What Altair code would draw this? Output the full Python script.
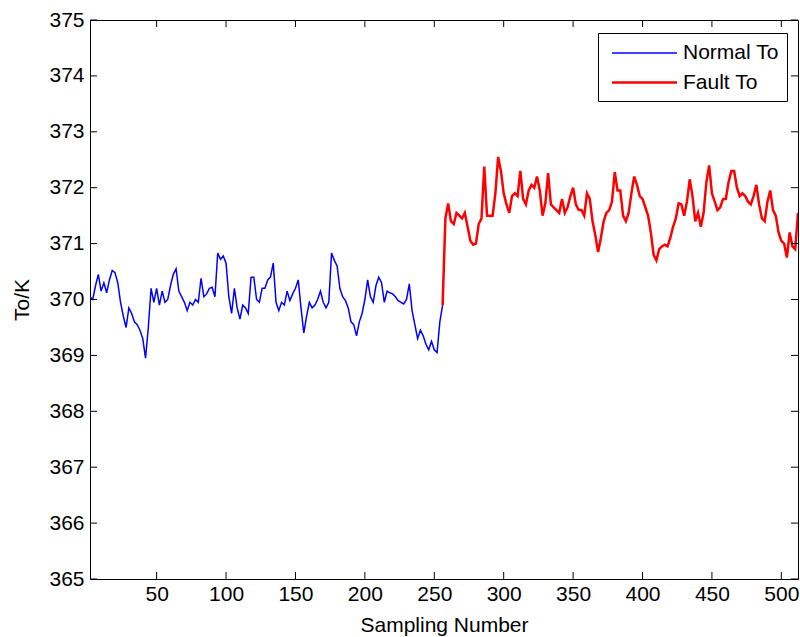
import altair as alt
import pandas as pd

# ---------------- data ----------------
normal_samples = list(range(2, 257, 2))
normal_to = [
    370.05, 370.0, 370.25, 370.45, 370.15, 370.3, 370.12, 370.35, 370.52, 370.48,
    370.3, 369.95, 369.7, 369.5, 369.85, 369.75, 369.6, 369.55, 369.45, 369.3,
    368.95, 369.5, 370.2, 369.95, 370.2, 369.9, 370.15, 369.95, 370.0, 370.25,
    370.45, 370.55, 370.15, 370.05, 369.95, 369.8, 369.95, 369.9, 370.0, 369.95,
    370.38, 370.05, 370.1, 370.2, 370.22, 370.05, 370.83, 370.72, 370.78, 370.65,
    370.05, 369.75, 370.2, 369.85, 369.65, 369.9, 369.85, 369.75, 370.4, 370.4,
    370.0, 369.95, 370.2, 370.2, 370.35, 370.4, 370.65, 369.95, 369.8, 369.95,
    369.9, 370.15, 369.98, 370.1, 370.2, 370.35, 369.85, 369.4, 369.7, 369.95,
    369.85, 369.9, 370.0, 370.15, 369.95, 369.85, 369.95, 370.83, 370.7, 370.6,
    370.2, 370.05, 369.98, 369.85, 369.6, 369.55, 369.35, 369.6, 369.75, 370.0,
    370.35, 370.05, 369.95, 370.25, 370.4, 370.3, 369.95, 370.15, 370.12, 370.1,
    370.05, 369.98, 369.95, 369.92, 370.0, 370.28, 369.8, 369.55, 369.3, 369.45,
    369.35, 369.2, 369.1, 369.25, 369.1, 369.05, 369.6, 369.9,
]
fault_samples = list(range(256, 513, 2))
fault_to = [
    369.9, 371.45, 371.72, 371.4, 371.35, 371.55, 371.5, 371.45, 371.55, 371.3,
    371.05, 370.98, 371.0, 371.35, 371.45, 372.38, 371.5, 371.5, 371.5, 371.9,
    372.55, 372.3, 371.9, 371.7, 371.55, 371.85, 371.9, 371.85, 372.3, 371.8,
    371.7, 371.95, 372.05, 372.0, 372.2, 371.95, 371.5, 371.72, 372.26, 371.7,
    371.65, 371.6, 371.55, 371.8, 371.55, 371.65, 371.85, 372.0, 371.7, 371.6,
    371.6, 371.5, 371.9, 371.8, 371.4, 371.15, 370.85, 371.1, 371.4, 371.55,
    371.6, 371.75, 372.28, 371.95, 371.95, 371.5, 371.4, 371.55, 371.9, 372.2,
    372.05, 371.85, 371.8, 371.65, 371.5, 371.2, 370.8, 370.7, 370.9, 370.95,
    370.98, 370.95, 371.1, 371.3, 371.45, 371.72, 371.7, 371.5, 371.75, 372.15,
    371.85, 371.4, 371.55, 371.3, 371.55, 372.1, 372.4, 371.9, 371.75, 371.6,
    371.65, 371.8, 371.8, 372.1, 372.3, 372.3, 372.0, 371.85, 371.9, 371.85,
    371.75, 371.7, 371.85, 372.05, 371.7, 371.45, 371.4, 371.75, 371.95, 371.6,
    371.5, 371.2, 371.05, 371.0, 370.75, 371.2, 370.95, 370.9, 371.55,
]
series_names = ["Normal To", "Fault To"]
series_colors = ["#0000FF", "#FF0000"]
series_widths = [1.5, 2.5]

x_ticks = [50, 100, 150, 200, 250, 300, 350, 400, 450, 500]
y_ticks = [365, 366, 367, 368, 369, 370, 371, 372, 373, 374, 375]
X_MIN, X_MAX = 2, 512
Y_MIN, Y_MAX = 365, 375

df = pd.concat([
    pd.DataFrame({"sample": normal_samples, "value": normal_to, "series": series_names[0]}),
    pd.DataFrame({"sample": fault_samples, "value": fault_to, "series": series_names[1]}),
], ignore_index=True)
xt = pd.DataFrame({"sample": x_ticks})
yt = pd.DataFrame({"value": y_ticks})

FONT = "Liberation Sans"
FS = 21

xscale = alt.Scale(domain=[X_MIN, X_MAX], nice=False, zero=False)
yscale = alt.Scale(domain=[Y_MIN, Y_MAX], nice=False, zero=False)
xaxis = alt.Axis(values=x_ticks, title="Sampling Number", ticks=False, domain=False,
                 grid=False, labelPadding=4, titlePadding=10, labelFlush=False)
yaxis = alt.Axis(values=y_ticks, title="To/K", ticks=False, domain=False,
                 grid=False, labelPadding=6, titlePadding=16)

# stroke symbol drawn wider than its layout box, so rows stay compact
SYM = 470  # layout box ~21.7 px; path spans 3x that (~65 px)
legend = alt.Legend(
    title=None, orient="none", legendX=508, legendY=13,
    symbolType="M-3,0H3", symbolSize=SYM, labelFontSize=FS, labelFont=FONT,
    labelColor="#000000", strokeColor="#000000", fillColor="#ffffff",
    padding=8, rowPadding=7, labelOffset=26, symbolOffset=26, cornerRadius=0,
    labelExpr="datum.label + '\u00a0\u00a0'",
)

lines = alt.Chart(df).mark_line(clip=True).encode(
    x=alt.X("sample:Q", scale=xscale, axis=xaxis),
    y=alt.Y("value:Q", scale=yscale, axis=yaxis),
    color=alt.Color("series:N", scale=alt.Scale(domain=series_names, range=series_colors), legend=legend),
    strokeWidth=alt.StrokeWidth("series:N", scale=alt.Scale(domain=series_names, range=series_widths), legend=legend),
    order="sample:Q",
)

TL = 7
bottom = alt.Chart(xt).mark_rule(color="black", strokeWidth=1, y2Offset=-TL).encode(
    x=alt.X("sample:Q", scale=xscale, axis=xaxis),
    y=alt.datum(Y_MIN, scale=yscale, axis=yaxis), y2=alt.datum(Y_MIN))
top = alt.Chart(xt).mark_rule(color="black", strokeWidth=1, y2Offset=TL).encode(
    x=alt.X("sample:Q", scale=xscale, axis=xaxis),
    y=alt.datum(Y_MAX, scale=yscale, axis=yaxis), y2=alt.datum(Y_MAX))
left = alt.Chart(yt).mark_rule(color="black", strokeWidth=1, x2Offset=TL).encode(
    y=alt.Y("value:Q", scale=yscale, axis=yaxis),
    x=alt.datum(X_MIN, scale=xscale, axis=xaxis), x2=alt.datum(X_MIN))
right = alt.Chart(yt).mark_rule(color="black", strokeWidth=1, x2Offset=-TL).encode(
    y=alt.Y("value:Q", scale=yscale, axis=yaxis),
    x=alt.datum(X_MAX, scale=xscale, axis=xaxis), x2=alt.datum(X_MAX))

chart = alt.layer(lines, bottom, top, left, right).properties(
    width=708, height=559,
    autosize=alt.AutoSizeParams(type="none"),
    padding={"left": 90, "top": 20, "right": 2, "bottom": 58},
    background="white",
).configure_view(
    stroke="black", strokeWidth=1,
).configure_axis(
    labelFont=FONT, labelFontSize=FS, labelColor="#000000",
    titleFont=FONT, titleFontSize=FS, titleColor="#000000", titleFontWeight="normal",
)

chart.save("out.html", embed_options={"renderer": "svg", "actions": False})
